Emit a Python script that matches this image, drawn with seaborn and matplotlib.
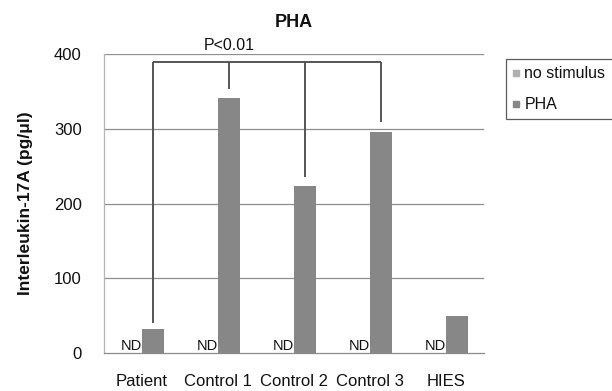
import matplotlib
matplotlib.use("Agg")
import matplotlib.pyplot as plt
from matplotlib.lines import Line2D
import pandas as pd
import seaborn as sns

# IL-17A secretion (pg/ul) per subject, without stimulus and after PHA
groups = ["Patient", "Control 1", "Control 2", "Control 3", "HIES"]
no_stimulus = [0, 0, 0, 0, 0]          # not detected (ND)
pha = [32, 341, 223, 296, 50]
conditions = ["no stimulus", "PHA"]

# significance bracket: top level and where each drop ends
bracket_groups = ["Patient", "Control 1", "Control 2", "Control 3"]
bracket_top = 389
bracket_ends = [40, 353, 236, 309]
p_label = "P<0.01"

yticks = [0, 100, 200, 300, 400]

df = pd.DataFrame({
    "group": groups * 2,
    "condition": [conditions[0]] * len(groups) + [conditions[1]] * len(groups),
    "value": no_stimulus + pha,
})

sns.set_style("white")
plt.rcParams["font.family"] = ["Liberation Sans", "DejaVu Sans"]

bar_grey = "#878787"
light_grey = "#b0b0b0"
text_col = "#111111"

fig = plt.figure(figsize=(6.12, 3.91), dpi=100)
ax = fig.add_axes([104 / 612, 1 - 353.3 / 391, 380 / 612, 299.3 / 391])

sns.barplot(data=df, x="group", y="value", hue="condition",
            palette=[light_grey, bar_grey], width=0.57, gap=0,
            saturation=1, legend=False, ax=ax, linewidth=0)

ax.set_ylim(0, 400)
ax.set_xlim(-0.5, len(groups) - 0.5)
ax.set_yticks(yticks)
ax.set_yticklabels([str(v) for v in yticks], fontsize=12, color=text_col)
ax.set_xticks(range(len(groups)))
ax.set_xticklabels(groups, fontsize=12, color=text_col)
ax.set_xticks([i - 0.5 for i in range(len(groups) + 1)], minor=True)
ax.tick_params(axis="x", which="major", length=0, pad=15)
ax.tick_params(axis="x", which="minor", length=4, width=0.9,
               color="#888888", direction="out")
ax.tick_params(axis="y", length=0, pad=16)
ax.set_xlabel("")
ax.set_ylabel("Interleukin-17A (pg/\u03bcl)", fontsize=12.5,
              fontweight="bold", labelpad=15, color=text_col)

for v in yticks[1:]:
    ax.axhline(v, color="#8f8f8f", lw=0.9, zorder=0.5)

for side in ["top", "right"]:
    ax.spines[side].set_visible(False)
ax.spines["left"].set_color("#b5b5b5")
ax.spines["left"].set_linewidth(0.9)
ax.spines["bottom"].set_color("#8a8a8a")
ax.spines["bottom"].set_linewidth(0.9)

# "ND" at each non-detected bar
for bar in ax.containers[0]:
    cx = bar.get_x() + bar.get_width() / 2
    ax.text(cx, 1, "ND", ha="center", va="bottom", fontsize=10.5,
            color=text_col)

# significance bracket over the PHA bars
centers = {g: b.get_x() + b.get_width() / 2
           for g, b in zip(groups, ax.containers[1])}
bx = [centers[g] for g in bracket_groups]
line_kw = dict(color="#555555", lw=1.4, solid_capstyle="butt", zorder=3)
ax.plot([bx[0], bx[-1]], [bracket_top, bracket_top], **line_kw)
for x, end in zip(bx, bracket_ends):
    ax.plot([x, x], [bracket_top, end], **line_kw)
ax.text(centers["Control 1"], 401, p_label, ha="center", va="bottom",
        fontsize=11.5, color=text_col, clip_on=False)

fig.text(294 / 612, 1 - 27 / 391, "PHA", ha="center", va="baseline",
         fontsize=13, fontweight="bold", color=text_col)

handles = [Line2D([], [], marker="s", linestyle="none", markersize=5,
                  markerfacecolor=c, markeredgecolor=c)
           for c in [light_grey, bar_grey]]
leg = fig.legend(handles, conditions, loc="upper left",
                 bbox_to_anchor=(506 / 612, 1 - 59 / 391),
                 fontsize=11.5, frameon=True, fancybox=False,
                 handlelength=0.4, handletextpad=0.3, labelspacing=1.0,
                 borderpad=0.45, borderaxespad=0)
for t in leg.get_texts():
    t.set_color(text_col)
leg.get_frame().set_edgecolor("#333333")
leg.get_frame().set_linewidth(0.9)

fig.savefig("out.png", dpi=100)
